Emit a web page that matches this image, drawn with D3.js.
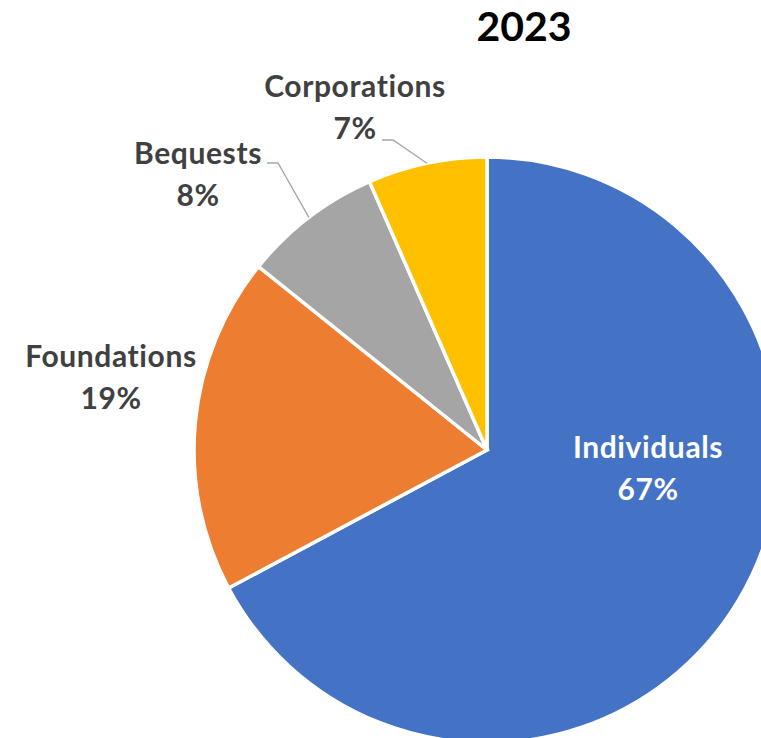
<!DOCTYPE html>
<html>
<head>
<meta charset="utf-8">
<script src="https://cdn.jsdelivr.net/npm/d3@7/dist/d3.min.js"></script>
<style>
  html, body { margin: 0; padding: 0; background: #fff; }
  svg { display: block; }
  text { font-family: Lato, "Open Sans", sans-serif; font-weight: 700; font-variant-ligatures: none; }
</style>
</head>
<body>
<svg id="chart" width="761" height="738"></svg>
<script>
// Charitable giving by source, 2023 (billions of dollars)
const categories = ["Individuals", "Foundations", "Bequests", "Corporations"];
const values = [374.4, 103.5, 42.7, 36.6];
const colors = ["#4472C4", "#ED7D31", "#A5A5A5", "#FFC000"];
const title = "2023";

const W = 761, H = 738;
const cx = 487, cy = 450, radius = 293;

const svg = d3.select("#chart");
const total = d3.sum(values);
const data = categories.map((c, i) => ({ name: c, value: values[i], color: colors[i] }));

const pie = d3.pie().sort(null).value(d => d.value);
const arcs = pie(data);
const arc = d3.arc().innerRadius(0).outerRadius(radius);

const g = svg.append("g").attr("transform", `translate(${cx},${cy})`);

g.selectAll("path.slice")
  .data(arcs)
  .join("path")
  .attr("class", "slice")
  .attr("d", arc)
  .attr("fill", d => d.data.color)
  .attr("stroke", "#fff")
  .attr("stroke-width", 3.5)
  .attr("stroke-linejoin", "miter");

// label placement: anchor point (relative to pie centre) and optional leader line
const labelLayout = {
  Individuals:  { x: 161, y: 8,    fill: "#fff", leader: null },
  Foundations:  { x: -376, y: -83, fill: "#404040", leader: null },
  Bequests:     { x: -289, y: -286, fill: "#404040", leader: { hx: -209, hy: -287 } },
  Corporations: { x: -132, y: -353, fill: "#404040", leader: { hx: -94, hy: -310 } }
};

const pct = v => Math.round(v / total * 100) + "%";

arcs.forEach(a => {
  const L = labelLayout[a.data.name];
  const t = g.append("text")
    .attr("text-anchor", "middle")
    .attr("fill", L.fill)
    .attr("font-size", 30)
    .attr("letter-spacing", 0.6);
  t.append("tspan").attr("x", L.x).attr("y", L.y).text(a.data.name);
  t.append("tspan").attr("x", L.x).attr("y", L.y + 42).text(pct(a.data.value));

  if (L.leader) {
    const mid = (a.startAngle + a.endAngle) / 2;
    const ex = Math.sin(mid) * radius, ey = -Math.cos(mid) * radius;
    const sx = L.leader.hx - 11;
    g.append("polyline")
      .attr("points", `${sx},${L.leader.hy} ${L.leader.hx},${L.leader.hy} ${ex},${ey}`)
      .attr("fill", "none")
      .attr("stroke", "#A6A6A6")
      .attr("stroke-width", 1.3);
  }
});

svg.append("text")
  .attr("x", 524)
  .attr("y", 41)
  .attr("text-anchor", "middle")
  .attr("font-size", 41)
  .attr("fill", "#000")
  .text(title);
</script>
</body>
</html>
